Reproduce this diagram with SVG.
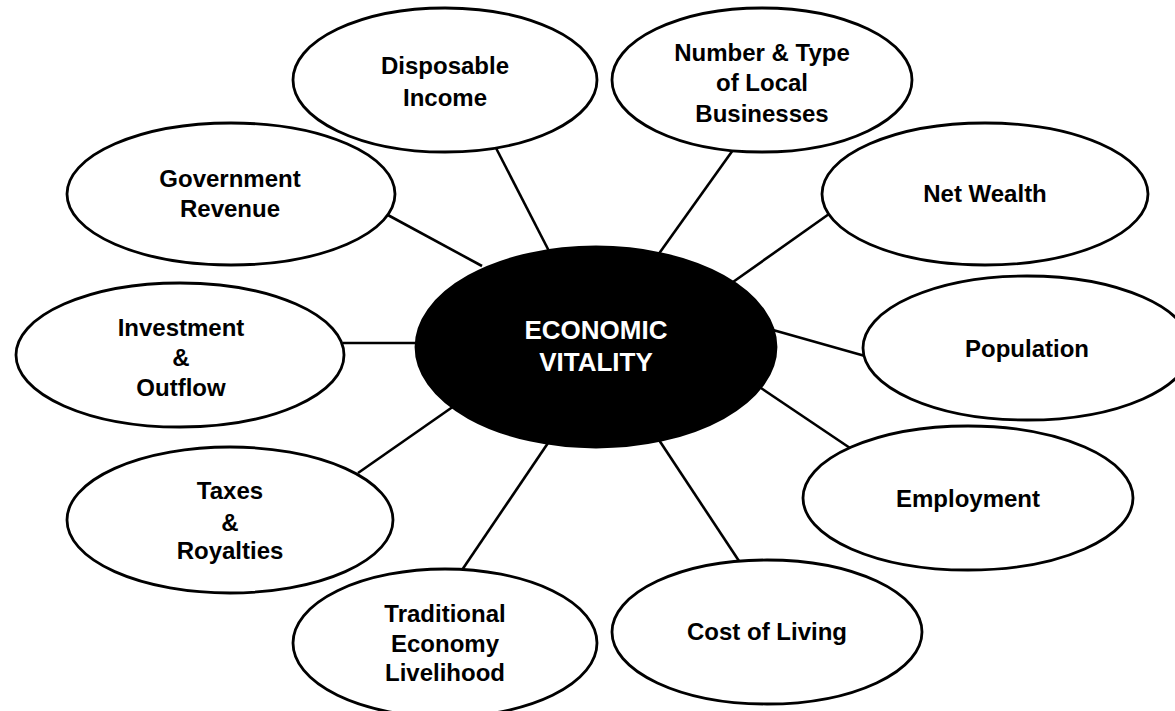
<svg xmlns="http://www.w3.org/2000/svg" width="1175" height="711" viewBox="0 0 1175 711">
<style>
.n{fill:#fff;stroke:#000;stroke-width:2.8}
.c{fill:#000;stroke:#000;stroke-width:2.8}
.t{font-family:"Liberation Sans",Arial,sans-serif;font-weight:bold;font-size:24px;fill:#000;text-anchor:middle}
.w{fill:#fff;font-size:26px}
#connectors line{stroke:#000;stroke-width:2.6}
</style>
<rect width="1175" height="711" fill="#fff"/>
<g id="connectors">
<line x1="386" y1="214" x2="482" y2="266"/>
<line x1="496" y1="148" x2="550" y2="253"/>
<line x1="733" y1="150" x2="658" y2="255"/>
<line x1="829" y1="214" x2="733" y2="282"/>
<line x1="865" y1="356" x2="773" y2="330"/>
<line x1="850" y1="448" x2="758" y2="386"/>
<line x1="739" y1="561" x2="659" y2="440"/>
<line x1="462" y1="570" x2="548" y2="443"/>
<line x1="358" y1="473" x2="454" y2="406"/>
<line x1="343" y1="343" x2="418" y2="343"/>
</g>
<g id="disposable"><ellipse class="n" cx="445" cy="80" rx="152" ry="72"/><text class="t" x="445" y="74">Disposable</text><text class="t" x="445" y="106">Income</text></g>
<g id="number"><ellipse class="n" cx="762" cy="80" rx="150" ry="72"/><text class="t" x="762" y="61">Number &amp; Type</text><text class="t" x="762" y="91">of Local</text><text class="t" x="762" y="122">Businesses</text></g>
<g id="government"><ellipse class="n" cx="231" cy="194" rx="164" ry="71"/><text class="t" x="230" y="187">Government</text><text class="t" x="230" y="217">Revenue</text></g>
<g id="netwealth"><ellipse class="n" cx="985" cy="194" rx="163" ry="71"/><text class="t" x="985" y="202">Net Wealth</text></g>
<g id="investment"><ellipse class="n" cx="180" cy="355" rx="164" ry="72"/><text class="t" x="181" y="336">Investment</text><text class="t" x="181" y="366">&amp;</text><text class="t" x="181" y="396">Outflow</text></g>
<g id="center"><ellipse class="c" cx="596" cy="347" rx="180" ry="100"/><text class="t w" x="596" y="339">ECONOMIC</text><text class="t w" x="596" y="371">VITALITY</text></g>
<g id="population"><ellipse class="n" cx="1027" cy="348" rx="164" ry="72"/><text class="t" x="1027" y="357">Population</text></g>
<g id="taxes"><ellipse class="n" cx="230" cy="520" rx="163" ry="73"/><text class="t" x="230" y="499">Taxes</text><text class="t" x="230" y="531">&amp;</text><text class="t" x="230" y="559">Royalties</text></g>
<g id="employment"><ellipse class="n" cx="968" cy="498" rx="165" ry="72"/><text class="t" x="968" y="507">Employment</text></g>
<g id="traditional"><ellipse class="n" cx="445" cy="643" rx="152" ry="74"/><text class="t" x="445" y="622">Traditional</text><text class="t" x="445" y="652">Economy</text><text class="t" x="445" y="681">Livelihood</text></g>
<g id="cost"><ellipse class="n" cx="767" cy="632" rx="155" ry="72"/><text class="t" x="767" y="640">Cost of Living</text></g>
</svg>
